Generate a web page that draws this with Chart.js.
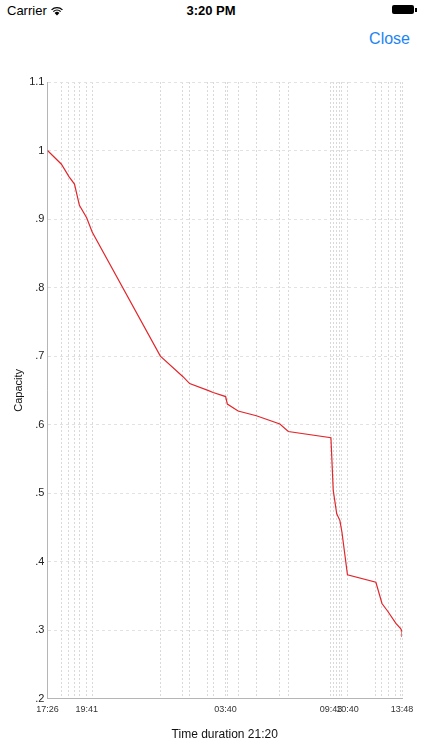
<!DOCTYPE html>
<html lang="en">
<head>
  <meta charset="UTF-8">
  <title>Capacity</title>
  <script src="https://cdn.jsdelivr.net/npm/chart.js"></script>
  <style>
    html, body {
      margin: 0;
      padding: 0;
      background: #fff;
      font-family: "Helvetica Neue", Helvetica, Arial, "Liberation Sans", sans-serif;
    }
    .status {
      position: absolute; top: 0; left: 0; width: 422px; height: 20px;
      font-size: 13px; color: #000;
    }
    .carrier { position: absolute; left: 7px; top: 3px; }
    .clock { position: absolute; left: 0; width: 422px; top: 3px; text-align: center; font-weight: bold; }
    .battery { position: absolute; right: 8px; top: 5px; width: 22px; height: 9px; background: #000; border-radius: 2px; }
    .battery:after { content: ""; position: absolute; right: -3px; top: 3px; width: 2px; height: 4px; background: #000; }
    .close { position: absolute; right: 12px; top: 30px; font-size: 16px; color: #1c84f5; }
    .wrap { position: absolute; top: 70px; left: 0; width: 422px; height: 680px; }
  </style>
</head>
<body>
  <div class="status">
    <span class="carrier">Carrier
      <svg width="14" height="10" viewBox="0 0 14 10" style="vertical-align:-1px"><path d="M7 9.5 L4.6 6.9 A3.5 3.5 0 0 1 9.4 6.9 Z M2.9 5.2 A6 6 0 0 1 11.1 5.2 L10.2 6.1 A4.7 4.7 0 0 0 3.8 6.1 Z M1.1 3.4 A8.6 8.6 0 0 1 12.9 3.4 L12 4.3 A7.3 7.3 0 0 0 2 4.3 Z" fill="#000"/></svg>
    </span>
    <span class="clock">3:20 PM</span>
    <span class="battery"></span>
  </div>
  <div class="close">Close</div>
  <div class="wrap"><canvas id="capChart" width="422" height="680"></canvas></div>

  <script>
    // minutes since 17:26
    const minutes = [0, 48, 74, 93, 110, 135, 154, 389, 467, 490, 553, 571, 614, 620, 657, 720, 801, 830,
                     977, 985, 997, 1008, 1015, 1034, 1132, 1153, 1174, 1201, 1218, 1222, 1222];
    const capacity = [1.0, 0.98, 0.962, 0.951, 0.92, 0.902, 0.881, 0.70, 0.670, 0.66, 0.650, 0.647, 0.641, 0.630, 0.62, 0.613, 0.601, 0.59,
                      0.581, 0.504, 0.47, 0.46, 0.443, 0.381, 0.37, 0.339, 0.327, 0.31, 0.302, 0.298, 0.29];
    const tickMinutes = [0, 135, 614, 977, 1034, 1222];
    const tickLabels = ["17:26", "19:41", "03:40", "09:43", "10:40", "13:48"];
    const yTicks = [0.2, 0.3, 0.4, 0.5, 0.6, 0.7, 0.8, 0.9, 1.0, 1.1];

    const points = minutes.map((m, i) => ({ x: m, y: capacity[i] }));
    const gridMinutes = [...new Set(minutes)];
    const font = "Helvetica, Arial, 'Liberation Sans'";

    new Chart(document.getElementById("capChart"), {
      type: "line",
      data: {
        datasets: [{
          data: points,
          borderColor: "#e2262b",
          borderWidth: 1.2,
          pointRadius: 0,
          tension: 0,
          fill: false
        }]
      },
      options: {
        responsive: false,
        animation: false,
        layout: { padding: { left: 12, right: 20, top: 12, bottom: 8 } },
        plugins: { legend: { display: false }, tooltip: { enabled: false } },
        scales: {
          x: {
            type: "linear",
            min: 0,
            max: 1222,
            afterBuildTicks: axis => { axis.ticks = gridMinutes.map(v => ({ value: v })); },
            ticks: {
              autoSkip: false,
              maxRotation: 0,
              padding: 5,
              color: "#333",
              font: { size: 9, family: font },
              callback: v => {
                const k = tickMinutes.indexOf(v);
                return k >= 0 ? tickLabels[k] : "";
              }
            },
            grid: { color: "#d9d9d9", drawTicks: false },
            border: { display: true, color: "#b5b5b5", dash: [2, 2] },
            title: {
              display: true,
              text: "Time duration 21:20",
              color: "#111",
              padding: { top: 8, bottom: 0 },
              font: { size: 12, family: font }
            }
          },
          y: {
            min: 0.2,
            max: 1.1,
            afterBuildTicks: axis => { axis.ticks = yTicks.map(v => ({ value: v })); },
            ticks: {
              padding: 3,
              color: "#222",
              font: { size: 11, family: font },
              callback: v => {
                const s = String(Math.round(v * 10) / 10);
                return s.startsWith("0.") ? s.slice(1) : s;
              }
            },
            grid: { color: "#e2e2e2", drawTicks: false },
            border: { display: true, color: "#b5b5b5", dash: [3, 3] },
            title: {
              display: true,
              text: "Capacity",
              color: "#111",
              padding: { top: 0, bottom: 1 },
              font: { size: 11, family: font }
            }
          }
        }
      }
    });
  </script>
</body>
</html>
